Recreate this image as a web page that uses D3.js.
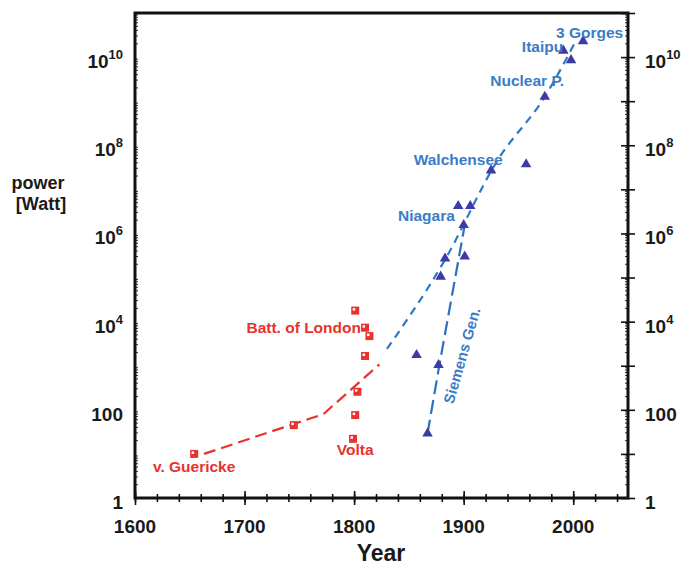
<!DOCTYPE html>
<html>
<head>
<meta charset="utf-8">
<script src="https://cdn.jsdelivr.net/npm/d3@7"></script>
<style>
  body { margin: 0; background: #fff; }
  svg text { font-family: "Liberation Sans", Arial, sans-serif; font-weight: bold; }
</style>
</head>
<body>
<svg id="chart"></svg>
<script>
// Configuration
const width = 684;
const height = 566;
const box = {left: 135, right: 628, top: 13, bottom: 498};

const red = '#e8322d';
const blueText = '#3a7cc6';
const blueLine = '#2f78c4';
const triColor = '#3b3aa6';

// Red points (early electricity sources): year, power [W]
const redYears = [1654, 1745, 1801, 1810, 1814, 1810, 1803, 1801, 1799];
const redPower = [10, 45, 17800, 7300, 4700, 1660, 257, 76, 22];

// Blue points (generators / power plants)
const blueYears = [2009, 1991, 1998, 1974, 1925, 1957, 1895, 1906, 1900, 1883, 1901, 1879, 1857, 1877, 1867];
const bluePower = [2.3e10, 1.4e10, 8.5e9, 1.26e9, 2.7e7, 3.7e7, 4.2e6, 4.2e6, 1.55e6, 2.7e5, 3.0e5, 1.05e5, 1750, 1040, 29];

// Trend lines
const redTrendYears = [1663, 1772, 1823];
const redTrendPower = [10, 80, 1070];
const blueTrendYears = [1830, 1882, 1931, 1974, 1998, 2001];
const blueTrendPower = [2400, 2.3e5, 4.6e7, 1.26e9, 1.44e10, 2.0e10];
const siemensYears = [1867, 1878, 1901];
const siemensPower = [29, 1100, 1.55e6];

// Labels (centre year, baseline power)
const labelTexts = ['v. Guericke', 'Batt. of London', 'Volta', 'Niagara', 'Walchensee', 'Nuclear P.', 'Itaipu', '3 Gorges'];
const labelYears = [1654, 1754, 1801, 1866, 1895, 1958, 1972, 2015];
const labelPower = [3.9, 5500, 9.4, 1.9e6, 3.6e7, 2.2e9, 1.3e10, 2.7e10];

// Axis ticks
const xMajor = [1600, 1700, 1800, 1900, 2000];
const xMinor = d3.range(1600, 2051, 20);
const yLabelExp = [0, 2, 4, 6, 8, 10];

const svg = d3.select("#chart")
    .attr("width", width)
    .attr("height", height);

const x = d3.scaleLinear()
    .domain([1600, 2050])
    .range([box.left, box.right]);

const y = d3.scaleLog()
    .domain([1, 1e11])
    .range([box.bottom, box.top]);

const decades = d3.range(0, 12).map(e => Math.pow(10, e));
const logMinor = [];
for (let e = 0; e < 11; e++) {
    for (let m = 2; m <= 9; m++) logMinor.push(m * Math.pow(10, e));
}

// crossing tick lines, built with d3 axes
function drawAxis(axisFn, scale, values, size, pos, horizontal) {
    const g = svg.append("g")
        .attr("transform", horizontal ? `translate(0,${pos})` : `translate(${pos},0)`)
        .call(axisFn(scale).tickValues(values).tickSize(size).tickFormat(""));
    g.select(".domain").remove();
    g.selectAll(".tick line")
        .attr("stroke", "#111")
        .attr("stroke-width", 1.6);
    if (horizontal) g.selectAll(".tick line").attr("y1", -size);
    else g.selectAll(".tick line").attr("x1", -size);
    return g;
}

drawAxis(d3.axisBottom, x, xMinor, 4, box.bottom, true);
drawAxis(d3.axisBottom, x, xMajor, 7, box.bottom, true);
drawAxis(d3.axisTop, x, xMinor, 4, box.top, true);
drawAxis(d3.axisTop, x, xMajor, 7, box.top, true);
drawAxis(d3.axisLeft, y, decades, 7, box.left, false);
drawAxis(d3.axisRight, y, decades, 7, box.right, false);

// small log minor ticks on the inside
svg.append("g").selectAll("line")
    .data(logMinor)
    .join("line")
    .attr("x1", box.left).attr("x2", box.left + 3)
    .attr("y1", d => y(d)).attr("y2", d => y(d))
    .attr("stroke", "#333").attr("stroke-width", 1);
svg.append("g").selectAll("line")
    .data(logMinor)
    .join("line")
    .attr("x1", box.right).attr("x2", box.right - 3)
    .attr("y1", d => y(d)).attr("y2", d => y(d))
    .attr("stroke", "#333").attr("stroke-width", 1);

// frame
svg.append("rect")
    .attr("x", box.left).attr("y", box.top)
    .attr("width", box.right - box.left)
    .attr("height", box.bottom - box.top)
    .attr("fill", "none")
    .attr("stroke", "#111")
    .attr("stroke-width", 3);

// x tick labels
svg.append("g").selectAll("text")
    .data(xMajor)
    .join("text")
    .attr("x", d => x(d))
    .attr("y", box.bottom + 35)
    .attr("text-anchor", "middle")
    .attr("font-size", 19)
    .attr("fill", "#1a1a1a")
    .text(d => d);

// y tick labels, both sides
function powerLabel(sel, e) {
    if (e === 0) { sel.text("1"); return; }
    if (e === 2) { sel.text("100"); return; }
    sel.append("tspan").text("10");
    sel.append("tspan").attr("font-size", 13).attr("dy", -9).text(e);
}

[{side: 'left', xPos: box.left - 12, anchor: 'end'},
 {side: 'right', xPos: box.right + 17, anchor: 'start'}].forEach(s => {
    svg.append("g").selectAll("text")
        .data(yLabelExp)
        .join("text")
        .attr("x", s.xPos)
        .attr("y", e => y(Math.pow(10, e)) + 11)
        .attr("text-anchor", s.anchor)
        .attr("font-size", 19)
        .attr("fill", "#1a1a1a")
        .each(function(e) { powerLabel(d3.select(this), e); });
});

// axis titles
svg.append("text")
    .attr("x", 381).attr("y", 561)
    .attr("text-anchor", "middle")
    .attr("font-size", 23)
    .attr("fill", "#1a1a1a")
    .text("Year");

svg.append("text")
    .attr("x", 38).attr("y", 189)
    .attr("text-anchor", "middle")
    .attr("font-size", 18)
    .attr("fill", "#1a1a1a")
    .text("power");
svg.append("text")
    .attr("x", 41).attr("y", 210)
    .attr("text-anchor", "middle")
    .attr("font-size", 18)
    .attr("fill", "#1a1a1a")
    .text("[Watt]");

// trend lines
const line = d3.line()
    .x(d => x(d[0]))
    .y(d => y(d[1]));

svg.append("path")
    .datum(d3.zip(redTrendYears, redTrendPower))
    .attr("d", line)
    .attr("fill", "none")
    .attr("stroke", red)
    .attr("stroke-width", 2.2)
    .attr("stroke-dasharray", "12,6");

svg.append("path")
    .datum(d3.zip(blueTrendYears, blueTrendPower))
    .attr("d", line.curve(d3.curveMonotoneX))
    .attr("fill", "none")
    .attr("stroke", blueLine)
    .attr("stroke-width", 2.2)
    .attr("stroke-dasharray", "8,6");

svg.append("path")
    .datum(d3.zip(siemensYears, siemensPower))
    .attr("d", d3.line().x(d => x(d[0])).y(d => y(d[1])))
    .attr("fill", "none")
    .attr("stroke", '#2e6fc2')
    .attr("stroke-width", 2.2)
    .attr("stroke-dasharray", "14,6");

// red squares with a light corner
const sq = svg.append("g").selectAll("g")
    .data(d3.zip(redYears, redPower))
    .join("g")
    .attr("transform", d => `translate(${x(d[0])},${y(d[1])})`);
sq.append("rect")
    .attr("x", -4).attr("y", -4)
    .attr("width", 8).attr("height", 8)
    .attr("fill", red);
sq.append("rect")
    .attr("x", -2.5).attr("y", -2.5)
    .attr("width", 2.5).attr("height", 2.5)
    .attr("fill", "#fff");

// blue triangles
svg.append("g").selectAll("path")
    .data(d3.zip(blueYears, bluePower))
    .join("path")
    .attr("transform", d => `translate(${x(d[0])},${y(d[1])})`)
    .attr("d", d3.symbol().type(d3.symbolTriangle).size(48))
    .attr("fill", triColor);

// point labels
svg.append("g").selectAll("text")
    .data(d3.zip(labelTexts, labelYears, labelPower))
    .join("text")
    .attr("x", d => x(d[1]))
    .attr("y", d => y(d[2]))
    .attr("text-anchor", "middle")
    .attr("font-size", 15.5)
    .attr("fill", (d, i) => i < 3 ? red : blueText)
    .text(d => d[0]);

svg.append("text")
    .attr("transform", `translate(${x(1903)},${y(1580)}) rotate(-74)`)
    .attr("text-anchor", "middle")
    .attr("font-size", 15)
    .attr("fill", blueText)
    .text("Siemens Gen.");
</script>
</body>
</html>
